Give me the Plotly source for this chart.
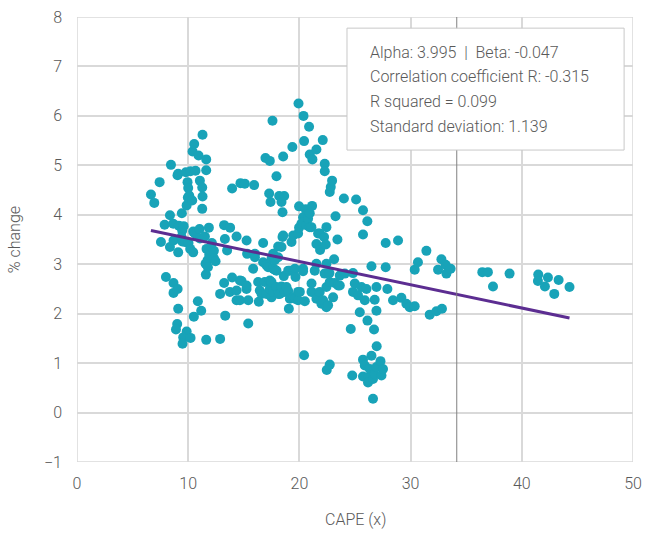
import plotly.graph_objects as go

cape = [
    6.65, 6.95, 7.43, 7.55, 7.88, 8.0, 8.36, 8.36, 8.45, 8.68, 8.66, 8.68, 8.68, 9.05, 9.04, 9.10,
    9.1, 9.16, 9.1, 9.01, 8.9, 9.43, 9.46, 9.59, 9.46, 9.4, 9.7, 9.79, 9.86, 9.86, 9.55, 9.49,
    9.97, 9.94, 10.0, 10.03, 10.09, 10.18, 10.21, 10.21, 10.36, 10.39, 10.45, 10.45, 10.51, 10.54,
    10.6, 10.66, 10.87, 10.93, 11.02, 11.05, 11.05, 11.17, 11.26, 11.26, 11.29, 11.29, 11.5, 11.56,
    11.59, 11.62, 11.62, 11.62, 11.65, 11.74, 11.77, 11.86, 11.89, 12.13, 12.31, 12.31, 12.46,
    12.87, 12.87,
    13.23, 13.23, 13.3, 13.33, 13.5, 13.75, 13.77, 13.95, 13.95, 14.35, 14.35, 14.35, 14.65, 14.65,
    14.7, 14.8, 15.09, 15.24, 15.25, 15.25, 15.3, 15.4, 15.4, 15.84, 15.93, 16.0, 16.0, 16.29,
    16.35, 16.44, 16.6, 16.74, 16.74, 16.89, 16.95, 17.04, 17.04, 17.19, 17.28, 17.34, 17.34, 17.34,
    17.4, 17.49, 17.49, 17.49, 17.58, 17.64, 17.64, 17.64, 17.79, 17.79, 17.94, 17.94, 17.94, 18.09,
    18.09, 18.09, 18.18, 18.24, 18.39, 18.39, 18.39, 18.48, 18.48, 18.54, 18.54, 18.6, 18.63, 18.69,
    18.84, 19.05, 18.99, 18.99, 19.14, 19.14, 19.29, 19.37, 19.43, 19.43, 19.44, 19.59, 19.59, 19.65,
    19.88, 19.88, 19.88, 19.92, 19.97, 19.97, 20.04, 20.18, 20.33, 20.33, 20.33, 20.33, 20.37, 20.42,
    20.42, 20.49, 20.57, 20.63, 20.78, 20.87, 20.93, 20.93, 20.93, 21.08, 21.09, 21.09, 21.14, 21.17,
    21.38, 21.53, 21.53, 21.53, 21.53, 21.68, 21.83, 21.83, 21.86, 21.98, 22.1, 22.13, 22.22, 22.27,
    22.28, 22.28, 22.37, 22.43, 22.43, 22.43, 22.43, 22.46, 22.58, 22.7, 22.73, 22.73, 22.73, 22.82,
    22.94, 23.03, 23.12, 23.18, 23.25, 23.42, 23.48, 23.63, 23.63, 24.0, 24.08, 24.62, 24.75, 24.82,
    24.82, 24.98, 25.1, 25.27, 25.43, 25.58, 25.72, 26.11, 25.72, 25.72, 25.72, 25.88, 25.88, 26.03,
    26.12, 26.17, 26.17, 26.33, 26.48, 26.48, 26.62, 26.62, 26.71, 26.77, 26.77, 26.93, 26.93, 26.93,
    26.95, 27.29, 27.38, 27.52, 27.76, 27.76, 27.91, 28.42, 28.87, 29.17, 29.62, 29.92, 30.37, 30.37,
    30.66, 31.42, 31.72, 32.32, 32.82, 32.47, 32.77, 33.15, 33.22, 33.6, 36.45, 36.95, 37.41, 38.9,
    41.48, 41.45, 42.35, 42.08, 42.92, 43.31, 44.29,
]

pct_change = [
    4.41, 4.24, 4.66, 3.45, 3.80, 2.74, 3.35, 3.99, 5.01, 3.48, 3.82, 2.62, 2.42, 2.50, 4.80, 4.83,
    3.24, 3.78, 2.10, 1.79, 1.68, 4.03, 3.68, 3.77, 3.46, 3.55, 3.45, 4.86, 4.19, 1.64, 1.52, 1.39,
    4.35, 4.66, 4.54, 3.43, 4.39, 3.31, 4.88, 1.51, 4.29, 5.28, 3.66, 3.24, 1.94, 5.43,
    3.62, 4.89, 2.25, 5.20, 3.71, 3.52, 4.69, 2.06, 4.55, 4.12, 4.37, 5.62, 3.56, 3.01,
    2.79, 5.12, 4.90, 1.47, 3.31, 3.08, 2.94, 3.74, 3.19, 3.43, 3.27, 3.12, 3.06,
    1.49, 2.40,
    3.79, 2.62, 3.51, 1.96, 3.28, 2.44, 3.74, 2.73, 4.53, 3.56, 2.27, 2.47, 2.67, 2.27,
    4.64, 2.66, 4.63, 2.50, 3.48, 2.57, 3.21, 2.27, 1.80, 2.91, 4.60, 3.21, 3.14, 2.64,
    2.24, 2.47, 2.40, 3.43, 3.04, 2.64, 5.15, 2.98, 2.40, 2.94, 4.43, 5.09, 2.50, 2.67,
    4.26, 2.64, 3.11, 2.33, 5.90, 3.21, 2.91, 2.44, 3.08, 2.89, 4.78, 2.54, 2.87, 3.36,
    3.14, 2.40, 4.38, 2.40, 4.26, 3.35, 2.55, 4.05, 3.55, 5.18, 3.58, 2.76, 4.38, 2.44,
    2.54, 2.10, 2.87, 2.46, 2.87, 2.30, 3.45, 5.37, 2.87, 2.33, 3.58, 2.91, 2.30, 2.74,
    3.62, 2.44, 2.27, 6.25, 4.17, 3.74, 2.44, 3.82, 3.95, 2.91, 2.86, 3.85, 6.00, 5.49,
    1.16, 2.25, 4.11, 3.79, 3.92, 5.78, 5.22, 4.03, 3.75, 3.75, 2.44, 2.61, 4.18, 5.12,
    2.87, 5.32, 3.41, 3.01, 2.30, 3.62, 3.62, 2.44, 3.29, 2.20, 5.51, 2.27, 3.55, 2.81,
    5.03, 4.88, 3.40, 3.75, 3.01, 2.54, 2.13, 0.86, 2.17, 2.82, 4.46, 0.97, 2.64, 4.56,
    4.69, 2.33, 3.10, 2.62, 3.97, 3.50, 2.57, 2.77, 2.57, 4.33, 2.81, 1.69, 0.75, 2.82,
    2.44, 2.61, 4.31, 2.37, 2.03, 2.54, 4.09, 3.87, 3.60, 1.07, 0.73, 2.27, 0.95, 2.50,
    1.86, 0.71, 0.61, 0.88, 2.96, 1.15, 0.68, 0.28, 1.68, 2.28, 0.78, 2.54, 2.06, 0.92,
    1.34, 1.04, 0.75, 0.88, 3.43, 2.94, 2.50, 2.27, 3.48, 2.32, 2.20, 2.13, 2.15, 2.89,
    3.04, 3.27, 1.98, 2.05, 2.10, 2.89, 3.10, 2.99, 2.81, 2.91, 2.84, 2.84, 2.55, 2.81,
    2.79, 2.66, 2.73, 2.55, 2.40, 2.68, 2.54,
]

alpha = 3.995
beta = -0.047
current_cape = 34.15
stats_lines = [
    "Alpha: 3.995  |  Beta: -0.047",
    "Correlation coefficient R: -0.315",
    "R squared = 0.099",
    "Standard deviation: 1.139",
]
x_ticks = [0, 10, 20, 30, 40, 50]
y_ticks = [-1, 0, 1, 2, 3, 4, 5, 6, 7, 8]

n = min(len(cape), len(pct_change))
cape = cape[:n]
pct_change = pct_change[:n]

x_lo, x_hi = min(cape), max(cape)
reg_x = [x_lo, x_hi]
reg_y = [alpha + beta * v for v in reg_x]

FONT = "Roboto"
TXT = "#595959"
GRID = "#d9d9d9"
f16 = dict(family=FONT, size=16, color=TXT, weight=300)

fig = go.Figure()
fig.add_trace(go.Scatter(
    x=cape, y=pct_change, mode="markers",
    marker=dict(color="#18a3b8", size=10, line=dict(width=0)),
    showlegend=False, hoverinfo="x+y",
))
fig.add_trace(go.Scatter(
    x=reg_x, y=reg_y, mode="lines",
    line=dict(color="#5c2d91", width=3),
    showlegend=False,
))

# edge grid lines (plotly drops grid lines sitting exactly on the plot edge)
fig.add_shape(type="line", xref="paper", yref="y", x0=0, x1=1, y0=y_ticks[-1], y1=y_ticks[-1],
              line=dict(color=GRID, width=1.5), layer="below")
fig.add_shape(type="line", xref="paper", yref="y", x0=0, x1=1, y0=y_ticks[0], y1=y_ticks[0],
              line=dict(color=GRID, width=1.5), layer="below")
fig.add_shape(type="line", xref="x", yref="paper", x0=x_ticks[-1], x1=x_ticks[-1], y0=0, y1=1,
              line=dict(color=GRID, width=1.5), layer="below")
fig.add_shape(type="line", xref="x", yref="paper", x0=x_ticks[0], x1=x_ticks[0], y0=0, y1=1,
              line=dict(color=GRID, width=1.5), layer="below")

fig.add_shape(type="line", xref="x", yref="y", x0=current_cape, x1=current_cape,
              y0=y_ticks[0], y1=y_ticks[-1], line=dict(color="#808080", width=1), layer="above")
fig.add_shape(type="rect", xref="paper", yref="paper", x0=0.4856, x1=0.984, y0=0.701, y1=0.975,
              fillcolor="white", line=dict(color="#c8c8c8", width=1), layer="above")

ys = [0.921, 0.866, 0.811, 0.755]
for t, yy in zip(stats_lines, ys):
    fig.add_annotation(text=t, xref="paper", yref="paper", x=0.523, y=yy,
                       xanchor="left", yanchor="middle", showarrow=False, font=f16)

fig.add_annotation(text="CAPE (x)", xref="paper", yref="paper", x=0.5, y=-0.13,
                   xanchor="center", yanchor="middle", showarrow=False, font=f16)
fig.add_annotation(text="% change", xref="paper", yref="paper", x=-0.112, y=0.5,
                   xanchor="center", yanchor="middle", showarrow=False, textangle=-90, font=f16)

fig.update_layout(
    width=647, height=535,
    margin=dict(l=77, r=14, t=17, b=73, autoexpand=False),
    plot_bgcolor="white", paper_bgcolor="white",
    font=f16,
)
fig.update_xaxes(
    range=[0, 50], tickvals=x_ticks, showgrid=True, gridcolor=GRID, gridwidth=1.5,
    zeroline=False, showline=False, ticks="", automargin=False, ticklabelstandoff=10,
    ticklabeloverflow="allow", tickfont=f16,
)
fig.update_yaxes(
    range=[-1, 8], tickvals=y_ticks, showgrid=True, gridcolor=GRID, gridwidth=1.5,
    zeroline=False, showline=False, ticks="", automargin=False, ticklabelstandoff=14,
    ticklabeloverflow="allow", tickfont=f16,
)

# remove the browser's default 8px body margin so the figure sits at the page origin
fig.write_html(
    "out.html",
    config={"displayModeBar": False},
    post_script="document.body.style.margin='0';document.body.style.overflow='hidden';",
)
